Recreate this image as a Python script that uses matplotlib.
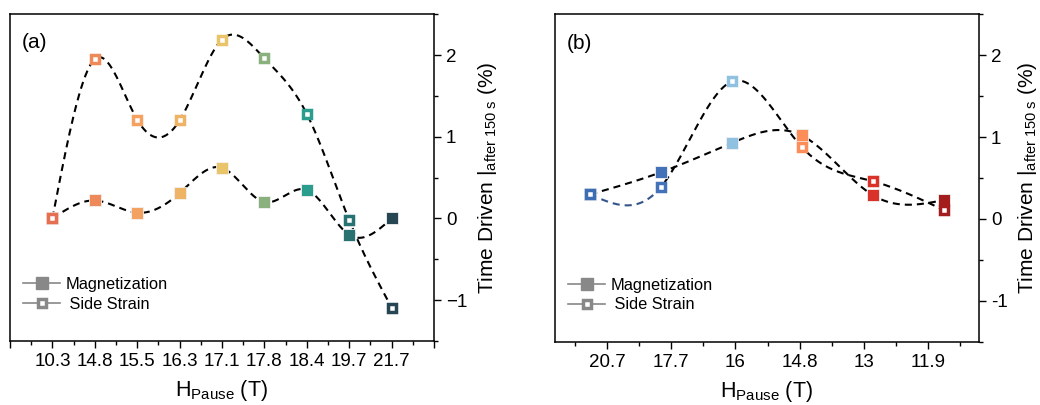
import numpy as np
import matplotlib.pyplot as plt
from matplotlib.lines import Line2D

plt.rcParams['font.family'] = ['Liberation Sans', 'DejaVu Sans']
plt.rcParams['mathtext.fontset'] = 'custom'
plt.rcParams['mathtext.rm'] = 'Liberation Sans'
plt.rcParams['mathtext.it'] = 'Liberation Sans:italic'

# panel (a): increasing pause field
labels_a = ['10.3', '14.8', '15.5', '16.3', '17.1', '17.8', '18.4', '19.7', '21.7']
x_a = [1, 2, 3, 4, 5, 6, 7, 8, 9]
magnet_a = [0.0, 0.22, 0.07, 0.31, 0.62, 0.20, 0.35, -0.20, 0.0]
strain_a = [0.0, 1.95, 1.21, 1.20, 2.19, 1.96, 1.28, -0.02, -1.09]
colors_a = ['#e76f51', '#ee8959', '#f4a261', '#efb366', '#e9c46a',
            '#8ab17d', '#2a9d8f', '#287271', '#264653']

# panel (b): decreasing pause field
labels_b = ['20.7', '17.7', '16', '14.8', '13', '11.9']
ticks_b = [1, 2, 3, 4, 5, 6]
x_b = [0.74, 1.84, 2.95, 4.03, 5.14, 6.24]
magnet_b = [0.30, 0.57, 0.93, 1.02, 0.29, 0.23]
strain_b = [0.30, 0.39, 1.68, 0.88, 0.46, 0.11]
colors_b = ['#3d6db3', '#4472b8', '#91c1e0', '#fc8d59', '#d83229', '#a31d1d']


def natural_spline(x, y, n=60):
    # natural cubic spline, returns list of (xs, ys) per segment
    x = np.asarray(x, float)
    y = np.asarray(y, float)
    k = len(x)
    h = np.diff(x)
    A = np.zeros((k, k))
    r = np.zeros(k)
    A[0, 0] = A[-1, -1] = 1
    for i in range(1, k - 1):
        A[i, i - 1] = h[i - 1]
        A[i, i] = 2 * (h[i - 1] + h[i])
        A[i, i + 1] = h[i]
        r[i] = 6 * ((y[i + 1] - y[i]) / h[i] - (y[i] - y[i - 1]) / h[i - 1])
    M = np.linalg.solve(A, r)
    segs = []
    for i in range(k - 1):
        t = np.linspace(x[i], x[i + 1], n)
        a = x[i + 1] - t
        b = t - x[i]
        s = (M[i] * a ** 3 + M[i + 1] * b ** 3) / (6 * h[i]) \
            + (y[i] / h[i] - M[i] * h[i] / 6) * a \
            + (y[i + 1] / h[i] - M[i + 1] * h[i] / 6) * b
        segs.append((t, s))
    return segs


def draw_curve(ax, x, y, seg_colors=None):
    segs = natural_spline(x, y)
    xs = np.concatenate([s[0] for s in segs])
    ys = np.concatenate([s[1] for s in segs])
    ax.plot(xs, ys, color='black', lw=1.5, dashes=(3.4, 2.4), zorder=2)
    if seg_colors:
        for i, c in seg_colors.items():
            ax.plot(segs[i][0], segs[i][1], color='white', lw=2.5, zorder=2.1)
            ax.plot(segs[i][0], segs[i][1], color=c, lw=1.5,
                    dashes=(3.4, 2.4), zorder=2.2)


def draw_points(ax, x, magnet, strain, colors):
    for xi, m, s, c in zip(x, magnet, strain, colors):
        ax.plot(xi, m, 's', ms=8.6, mfc=c, mec='#f2f2f2', mew=0.6, zorder=3)
        ax.plot(xi, s, 's', ms=6.0, mfc='white', mec=c, mew=2.5, zorder=4)


def style_axes(ax, tag, ytl):
    ax.set_ylim(-1.5, 2.5)
    ax.yaxis.tick_right()
    ax.yaxis.set_label_position('right')
    ax.set_yticks([-1, 0, 1, 2])
    ax.set_yticklabels(ytl)
    ax.set_yticks([-1.5, -0.5, 0.5, 1.5, 2.5], minor=True)
    ax.tick_params(axis='both', which='major', direction='out', length=5,
                   width=1, labelsize=13.5)
    ax.tick_params(axis='both', which='minor', direction='out', length=2.8,
                   width=1)
    for sp in ax.spines.values():
        sp.set_linewidth(1.1)
    ax.set_ylabel('Time Driven |$_{\\mathrm{after\\ 150\\ s}}$ (%)',
                  fontsize=15, labelpad=6)
    ax.set_xlabel('H$_{\\mathrm{Pause}}$ (T)', fontsize=15.5, labelpad=6)
    ax.text(0.058, 0.912, tag, transform=ax.transAxes, fontsize=15,
            ha='center', va='center')
    handles = [
        Line2D([], [], color='#888888', lw=1.2, marker='s', ms=8.6,
               mfc='#888888', mec='#888888'),
        Line2D([], [], color='#888888', lw=1.2, marker='s', ms=6.0,
               mfc='white', mec='#888888', mew=2.5),
    ]
    ax.legend(handles, ['Magnetization', ' Side Strain'], loc='lower left',
              bbox_to_anchor=(0.03, 0.09), frameon=False, fontsize=11.8,
              handlelength=2.3, handletextpad=0.3, labelspacing=0.28,
              borderpad=0, borderaxespad=0)


fig = plt.figure(figsize=(10.4, 4.05), dpi=100)
ax1 = fig.add_axes([0.0096, 0.158, 0.4077, 0.807])
ax2 = fig.add_axes([0.5336, 0.156, 0.4077, 0.809])

# (a)
draw_curve(ax1, x_a, magnet_a)
draw_curve(ax1, x_a, strain_a)
draw_points(ax1, x_a, magnet_a, strain_a, colors_a)
ax1.set_xlim(0, 10)
ax1.set_xticks(range(0, 11))
ax1.set_xticklabels([''] + labels_a + [''])
ax1.set_xticks(np.arange(0.5, 10, 1), minor=True)
style_axes(ax1, '(a)', ['\u22121', '0', '1', '2'])

# (b)
draw_curve(ax2, x_b, magnet_b)
draw_curve(ax2, x_b, strain_b, seg_colors={0: '#34558a'})
draw_points(ax2, x_b, magnet_b, strain_b, colors_b)
ax2.set_xlim(0.19, 6.79)
ax2.set_xticks(ticks_b)
ax2.set_xticklabels(labels_b)
ax2.set_xticks(np.arange(0.5, 7, 1), minor=True)
style_axes(ax2, '(b)', ['-1', '0', '1', '2'])

fig.savefig('out.png', dpi=100)
